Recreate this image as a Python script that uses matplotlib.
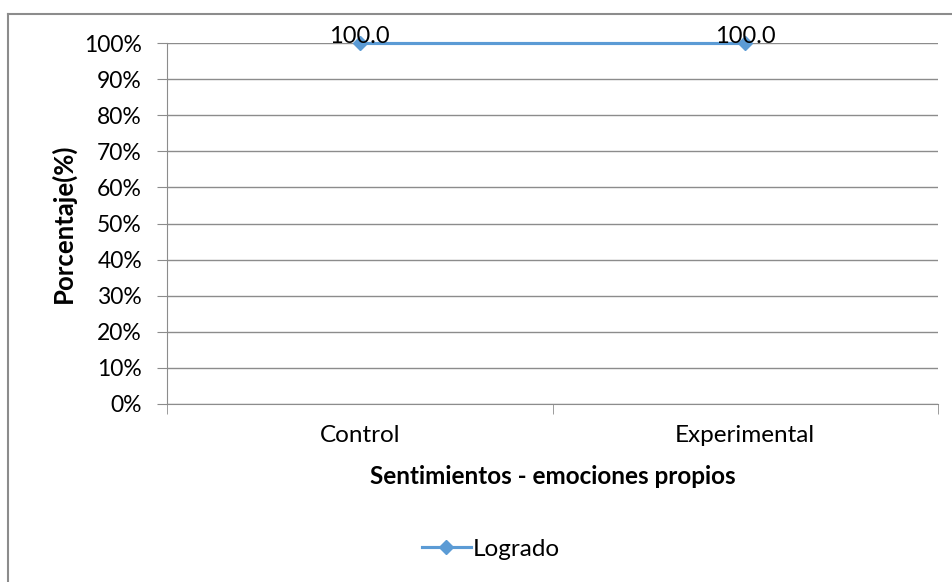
import matplotlib.pyplot as plt
from matplotlib.lines import Line2D
from matplotlib.ticker import PercentFormatter

plt.rcParams['font.family'] = ['Lato', 'DejaVu Sans']

categorias = ['Control', 'Experimental']
logrado = [100.0, 100.0]
yticks = [0, 10, 20, 30, 40, 50, 60, 70, 80, 90, 100]

fig = plt.figure(figsize=(9.52, 5.82), dpi=100)
ax = fig.add_axes([167 / 952, 1 - 404 / 582, (938 - 167) / 952, (404 - 43) / 582])

# chart frame (cut off at right and bottom)
fig.add_artist(Line2D([8 / 952, 8 / 952], [0, 1 - 14 / 582], color='#8c8c8c', lw=1.5,
                      transform=fig.transFigure))
fig.add_artist(Line2D([8 / 952, 1], [1 - 14 / 582, 1 - 14 / 582], color='#8c8c8c', lw=1.5,
                      transform=fig.transFigure))

x = list(range(len(categorias)))
ax.plot(x, logrado, color='#5b9bd5', lw=2.25, marker='D', ms=7, label='Logrado', zorder=3,
        clip_on=False)
for xi, v in zip(x, logrado):
    ax.annotate(f'{v:.1f}', (xi, v), xytext=(0, 0), textcoords='offset points',
                ha='center', va='baseline', fontsize=17, color='black', zorder=4)

ax.set_xlim(-0.5, len(categorias) - 0.5)
ax.set_ylim(0, 100)
ax.set_yticks(yticks)
ax.yaxis.set_major_formatter(PercentFormatter(decimals=0))
ax.grid(axis='y', color='#8c8c8c', lw=1)
ax.set_axisbelow(True)

ax.set_xticks(x)
ax.set_xticklabels(categorias, fontsize=17.5)
ax.set_xticks([-0.5, 0.5, 1.5], minor=True)
ax.tick_params(axis='x', which='major', length=0, pad=15)
ax.tick_params(axis='x', which='minor', length=7, color='#8c8c8c')
ax.tick_params(axis='y', length=7, color='#8c8c8c', labelsize=16.5, pad=11)

for s in ['top', 'right']:
    ax.spines[s].set_visible(False)
for s in ['left', 'bottom']:
    ax.spines[s].set_color('#8c8c8c')

ax.set_xlabel('Sentimientos - emociones propios', fontsize=17.5, fontweight='bold')
ax.xaxis.set_label_coords(0.5, -0.202)
ax.xaxis.label.set_va('center')
ax.set_ylabel('Porcentaje(%)', fontsize=18.5, fontweight='bold')
ax.yaxis.set_label_coords(-0.135, 0.5)
ax.yaxis.label.set_va('center')

fig.legend(loc='center', bbox_to_anchor=(491 / 952, 1 - 549 / 582), frameon=False,
           fontsize=17.5, handlelength=2.0, handletextpad=0.1)

fig.savefig('out.png', dpi=100)
